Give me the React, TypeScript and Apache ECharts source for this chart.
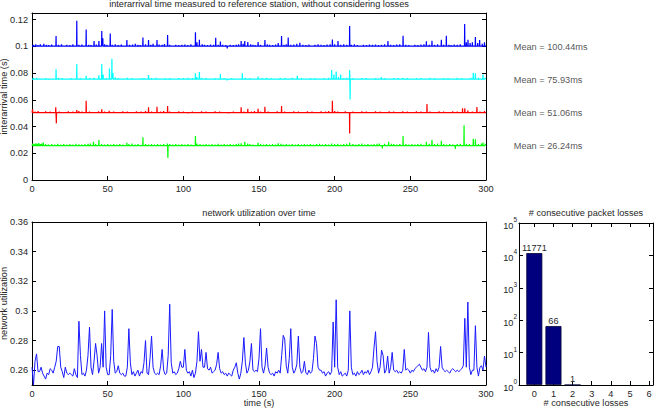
import React, { useEffect, useRef } from "react";
import * as echarts from "echarts";

// ---------- data ----------
const TIME_TICKS = [0, 50, 100, 150, 200, 250, 300];
const INTERARRIVAL_TICKS = [0, 0.02, 0.04, 0.06, 0.08, 0.1, 0.12];
const UTIL_TICKS = [0.26, 0.28, 0.3, 0.32, 0.34, 0.36];
const LOSS_RUNS = [0, 1, 2, 3, 4, 5, 6];
const LOSS_COUNTS = [11771, 66, 1, 0, 0, 0, 0];
const LOG_TICKS = [1, 10, 100, 1000, 10000, 100000];

const STATION_COLORS = ["#0000ff", "#00ffff", "#ff0000", "#00ff00"];
const MEANS_MS = [100.44, 75.93, 51.06, 26.24];
const BASELINES = [0.1002, 0.0755, 0.0505, 0.0258];

// spikes [time s, interarrival s]
const BLUE_SPIKES = [[0.8,0.1012],[2.5,0.1015],[4,0.101],[5.5,0.1016],[7.8,0.102],[9.5,0.1012],[11,0.101],[13,0.1014],[15.9,0.1077],[17.5,0.1012],[19.5,0.1016],[21,0.0997],[23,0.1012],[25,0.101],[27,0.1015],[29.6,0.1192],[31,0.1012],[33,0.1014],[35.8,0.1127],[37.5,0.1012],[39,0.101],[41,0.104],[42.5,0.1013],[44.2,0.104],[46.1,0.1115],[46.8,0.106],[48,0.1015],[49.5,0.1012],[51.7,0.1097],[53,0.1012],[55,0.1015],[57,0.101],[59,0.1013],[60.5,0.0997],[62.7,0.1047],[64.5,0.1012],[66.5,0.1014],[68.3,0.102],[70,0.1012],[71.5,0.101],[73.3,0.1067],[75,0.1015],[77,0.1047],[78.5,0.1012],[80,0.102],[82.6,0.1047],[84,0.1014],[86,0.1012],[87.5,0.1018],[89.6,0.1085],[91,0.1012],[93,0.0997],[95,0.1012],[97,0.101],[99,0.1012],[101,0.1014],[103,0.101],[105,0.1015],[108,0.1105],[109,0.103],[110.6,0.105],[112.5,0.1015],[114,0.1012],[116,0.101],[118,0.1013],[120,0.1012],[121.4,0.1065],[123,0.1012],[124.5,0.1037],[126,0.1012],[128,0.101],[129,0.0985],[131,0.1012],[133,0.101],[135,0.1012],[136.5,0.1015],[138.2,0.104],[139.5,0.102],[140.6,0.104],[142.6,0.1032],[144.5,0.1015],[146,0.1012],[147.5,0.101],[149.4,0.1032],[151,0.1012],[153.9,0.1047],[155.5,0.1015],[157,0.1012],[159,0.101],[161,0.1014],[162.7,0.1025],[164.9,0.1077],[166.5,0.1012],[168,0.1015],[169.3,0.1067],[171,0.1012],[173,0.1014],[175,0.102],[177,0.1027],[179,0.1012],[181,0.101],[183,0.1013],[185,0.0997],[187,0.1012],[189,0.1015],[191,0.1012],[193,0.101],[195,0.1014],[197,0.1015],[198.5,0.1052],[200,0.1015],[202.2,0.104],[204,0.1012],[206,0.1015],[208,0.1012],[209.9,0.1152],[211,0.1012],[213,0.1015],[215,0.101],[217,0.0997],[219,0.1012],[221,0.101],[223,0.1013],[225,0.1012],[227,0.1014],[229,0.101],[231,0.1012],[233,0.1015],[235.2,0.104],[237,0.1012],[239,0.101],[241,0.1013],[243,0.1015],[245.2,0.108],[247,0.1012],[249,0.101],[251,0.0997],[253,0.1012],[255,0.101],[257,0.1013],[259,0.1015],[260.6,0.1038],[262.5,0.1012],[264.3,0.1042],[266,0.1012],[268,0.1015],[270.5,0.105],[272,0.1012],[273.8,0.108],[275.5,0.1012],[277,0.101],[279,0.1014],[281,0.1012],[283,0.1015],[285.9,0.1167],[287,0.103],[288.1,0.105],[289.5,0.1025],[291,0.103],[293,0.107],[294.5,0.1025],[295.8,0.1047],[297.5,0.102],[299,0.103]];
const CYAN_SPIKES = [[1,0.0762],[3,0.0765],[6,0.076],[9,0.0763],[12,0.076],[15.9,0.0828],[17.5,0.0765],[20,0.0762],[23,0.076],[26,0.0763],[29.6,0.0868],[32,0.0762],[35.8,0.078],[38,0.0762],[41,0.0765],[44.2,0.0783],[46.1,0.0868],[47,0.079],[49,0.0762],[51.2,0.0835],[52.8,0.0908],[53.5,0.08],[55,0.0768],[57,0.0762],[60,0.076],[63,0.0765],[66,0.0762],[69,0.076],[72,0.0763],[74,0.0762],[77,0.0786],[79,0.0762],[82,0.0765],[85,0.076],[88,0.0763],[91,0.0762],[94,0.076],[97,0.0763],[100,0.0762],[103,0.0765],[106,0.0762],[108,0.0798],[109,0.077],[110.6,0.0808],[112,0.0765],[115,0.0762],[118,0.076],[121,0.0763],[124.5,0.0793],[127,0.0762],[129,0.0745],[132,0.0762],[135,0.076],[139,0.0798],[141,0.0765],[144,0.0762],[147,0.076],[149.4,0.0775],[152,0.0762],[155,0.0765],[158,0.0762],[161,0.076],[164,0.0765],[167,0.0762],[170,0.076],[172,0.0765],[175.3,0.078],[178,0.0762],[181,0.076],[184,0.0763],[187,0.0762],[190,0.076],[193,0.0763],[196,0.0765],[198,0.0823],[199.5,0.079],[201,0.0812],[202.5,0.077],[204,0.079],[206,0.0762],[208,0.0765],[209.9,0.0823],[210.2,0.0603],[212,0.0762],[215,0.076],[218,0.0763],[221,0.0762],[224,0.076],[227,0.0763],[230.8,0.077],[233,0.0762],[236,0.076],[239,0.0763],[242,0.0762],[245,0.0765],[248,0.0762],[251,0.076],[254,0.0763],[257,0.0762],[260,0.076],[263,0.0765],[266,0.0762],[269,0.076],[272,0.0763],[275,0.0762],[278,0.076],[281,0.0765],[284,0.0762],[287,0.076],[290,0.0765],[291.6,0.0803],[293,0.0798],[295,0.0765],[298,0.079],[299.5,0.0765]];
const RED_SPIKES = [[0.4,0.0529],[2,0.0512],[4,0.0515],[6,0.051],[9,0.0513],[12,0.0512],[15.7,0.0544],[16.1,0.0424],[18,0.0512],[21,0.051],[24,0.0513],[27,0.0512],[29.6,0.0524],[31,0.0515],[33,0.0512],[35.8,0.0594],[38,0.0512],[41,0.051],[44,0.0513],[46.1,0.0529],[48,0.0512],[51,0.0518],[54,0.0512],[57,0.051],[60,0.0513],[63,0.0512],[66,0.051],[69,0.0513],[72,0.0512],[75,0.0515],[77,0.0544],[79,0.0512],[82.6,0.0549],[85,0.0512],[87,0.0515],[89.6,0.0554],[91,0.0512],[94,0.051],[97,0.0513],[100,0.0512],[103,0.0498],[106,0.0512],[109,0.051],[112,0.0513],[115,0.0512],[118,0.051],[121,0.0513],[124,0.0512],[127,0.051],[130,0.0498],[133,0.0512],[136,0.051],[138.2,0.0544],[140,0.0512],[142.6,0.0534],[145,0.0512],[147,0.0515],[149.4,0.0534],[151,0.0512],[153.9,0.0549],[156,0.0512],[159,0.051],[162,0.0513],[164.9,0.0554],[167,0.0512],[170,0.051],[173,0.0513],[176,0.0512],[179,0.051],[182,0.0513],[185,0.0512],[188,0.051],[191,0.0513],[194,0.0512],[196,0.0515],[198.5,0.0594],[200,0.0515],[202,0.0512],[205,0.051],[207,0.0513],[209.9,0.0349],[212,0.0512],[215,0.051],[218,0.0513],[221,0.0512],[224,0.051],[227,0.0513],[230,0.0512],[233,0.051],[236,0.0513],[239,0.0512],[242,0.051],[245,0.0513],[248,0.0512],[251,0.051],[254,0.0513],[257,0.0512],[261,0.0569],[263,0.0512],[266,0.051],[269,0.0513],[272,0.0512],[275,0.051],[278,0.0513],[281,0.0512],[284.5,0.0536],[286,0.0536],[288,0.052],[291,0.0512],[294,0.0546],[296,0.0512],[299,0.0515]];
const GREEN_SPIKES = [[0.5,0.0272],[1.5,0.0268],[2.5,0.0275],[3.5,0.027],[4.5,0.0277],[5.5,0.0268],[6.5,0.0272],[7.5,0.028],[9,0.0268],[11,0.0265],[13,0.0268],[15,0.0265],[17,0.027],[19,0.0265],[21,0.0268],[23,0.0265],[25,0.0268],[27,0.0265],[29,0.027],[31,0.0267],[33,0.0265],[35,0.0268],[37,0.027],[38.5,0.0272],[40.6,0.0287],[42,0.0268],[44.2,0.0299],[46,0.0268],[48,0.0265],[50,0.0268],[52,0.0265],[54,0.0268],[56,0.0265],[58,0.0268],[60,0.0265],[62.7,0.0279],[64,0.0268],[66,0.0272],[68,0.0265],[70,0.0268],[73.3,0.0319],[75,0.0268],[77,0.0265],[79,0.0268],[81,0.0265],[83,0.0268],[85,0.0265],[87,0.0268],[89.5,0.0272],[89.8,0.0165],[91,0.0268],[93,0.0265],[95,0.0268],[97,0.0265],[99,0.0268],[101,0.0265],[103,0.0268],[105,0.0265],[108,0.0329],[109,0.0272],[111,0.0268],[113,0.0265],[115,0.0268],[117,0.0265],[119,0.0268],[121,0.0265],[123,0.027],[125,0.0265],[127,0.0268],[129,0.0265],[131,0.0268],[133,0.0265],[135,0.0268],[136.5,0.0272],[138.2,0.0274],[140.6,0.0287],[142.5,0.0272],[144,0.0268],[146,0.0265],[149.4,0.0279],[151,0.0268],[153,0.0265],[155,0.0268],[157,0.0265],[159,0.0268],[161,0.0265],[162.7,0.0274],[164.5,0.027],[166,0.0265],[168,0.0268],[170,0.0265],[172,0.0268],[174,0.0265],[176,0.0268],[178,0.0265],[180,0.0268],[182,0.0265],[184,0.0268],[186,0.0265],[188,0.0268],[190,0.027],[192,0.0265],[194,0.0268],[196,0.0265],[198,0.0272],[200,0.0268],[202,0.027],[204,0.0265],[206,0.0268],[208,0.027],[209.9,0.0279],[212,0.0268],[214,0.0265],[216,0.0268],[218,0.0272],[220,0.0265],[222,0.0268],[224,0.0265],[226,0.0268],[228,0.027],[229.5,0.0272],[231.5,0.0237],[233,0.027],[235.7,0.0287],[237.5,0.027],[239,0.0268],[241,0.0265],[243,0.0268],[245.2,0.0329],[247,0.0268],[249,0.0265],[251,0.0268],[253,0.0265],[255,0.0268],[257,0.027],[260.6,0.0287],[262.5,0.027],[264.3,0.0299],[266,0.0268],[268,0.0272],[270.5,0.0294],[272,0.0268],[274,0.0265],[276,0.0268],[278,0.0265],[279.7,0.0232],[281,0.0268],[283,0.027],[285.5,0.041],[287,0.027],[289,0.0268],[291.6,0.0309],[293,0.0304],[295,0.0268],[297,0.0272],[298,0.028],[299.5,0.027]];
const STATION_SPIKES = [BLUE_SPIKES, CYAN_SPIKES, RED_SPIKES, GREEN_SPIKES];

// network utilization, one sample per second, t = 0..300
const UTILIZATION = [
  0.262,0.25,0.266,0.271,0.259,0.259,0.262,0.258,0.256,0.254,0.258,0.257,0.261,0.26,0.258,0.262,0.266,0.276,0.276,0.262,
  0.259,0.255,0.262,0.258,0.257,0.258,0.257,0.256,0.261,0.257,0.255,0.293,0.27,0.257,0.258,0.256,0.26,0.27,0.289,0.262,
  0.257,0.266,0.278,0.27,0.258,0.262,0.278,0.262,0.3,0.262,0.257,0.257,0.27,0.301,0.266,0.258,0.259,0.263,0.258,0.257,
  0.258,0.256,0.256,0.262,0.288,0.265,0.257,0.259,0.256,0.258,0.26,0.256,0.259,0.258,0.265,0.28,0.258,0.257,0.268,0.283,
  0.262,0.258,0.257,0.258,0.257,0.263,0.274,0.26,0.257,0.258,0.27,0.3045,0.265,0.258,0.259,0.257,0.258,0.261,0.266,0.262,
  0.262,0.274,0.26,0.258,0.259,0.256,0.26,0.255,0.258,0.266,0.286,0.266,0.274,0.262,0.262,0.272,0.261,0.26,0.262,0.258,
  0.259,0.26,0.264,0.272,0.261,0.258,0.259,0.257,0.258,0.256,0.258,0.257,0.256,0.26,0.262,0.265,0.258,0.254,0.258,0.266,
  0.282,0.265,0.258,0.26,0.266,0.278,0.26,0.259,0.26,0.259,0.268,0.288,0.262,0.258,0.263,0.275,0.262,0.258,0.257,0.258,
  0.256,0.259,0.258,0.26,0.258,0.27,0.2835,0.281,0.263,0.258,0.268,0.288,0.262,0.258,0.26,0.264,0.283,0.262,0.258,0.259,
  0.266,0.258,0.257,0.26,0.258,0.259,0.268,0.283,0.278,0.262,0.26,0.26,0.258,0.259,0.256,0.258,0.259,0.257,0.259,0.2925,
  0.262,0.3075,0.262,0.257,0.259,0.256,0.257,0.258,0.256,0.26,0.3,0.262,0.257,0.258,0.256,0.259,0.257,0.258,0.26,0.257,
  0.259,0.258,0.26,0.257,0.259,0.262,0.275,0.286,0.266,0.258,0.262,0.2735,0.27,0.258,0.26,0.2695,0.258,0.262,0.272,0.26,
  0.259,0.26,0.258,0.259,0.258,0.26,0.274,0.26,0.261,0.26,0.258,0.26,0.259,0.261,0.262,0.263,0.264,0.262,0.26,0.261,
  0.259,0.262,0.2855,0.262,0.259,0.26,0.258,0.261,0.259,0.262,0.276,0.262,0.26,0.259,0.26,0.259,0.258,0.26,0.261,0.26,
  0.259,0.26,0.259,0.26,0.261,0.263,0.295,0.262,0.306,0.262,0.257,0.26,0.26,0.29,0.262,0.256,0.262,0.263,0.26,0.2695,0.262
];

// ---------- style ----------
const FONT = '"Liberation Sans", Arial, Helvetica, sans-serif';
const TXT = "#262626";
const FS = 9.2;

function buildTrace(base: number, spikes: number[][]) {
  const pts: number[][] = [[0, base]];
  for (const [t, v] of spikes) {
    pts.push([t - 0.12, base], [t, v], [t + 0.12, base]);
  }
  pts.push([300, base]);
  return pts;
}

const line = { show: true, onZero: false, lineStyle: { color: "#000", width: 1 } };
const tick = { show: true, inside: true, length: 4, lineStyle: { color: "#000", width: 1 } };
const lbl = { color: TXT, fontSize: FS, fontFamily: FONT, margin: 4 };
const noSplit = { show: false };

function axisName(name: string, gap: number) {
  return {
    name,
    nameLocation: "middle" as const,
    nameGap: gap,
    nameMoveOverlap: false,
    nameTextStyle: { color: TXT, fontSize: FS, fontFamily: FONT },
  };
}

export default function App() {
  const ref = useRef<HTMLDivElement>(null);
  useEffect(() => {
    document.body.style.margin = "0";
    const chart = echarts.init(ref.current!, null, { renderer: "svg" });

    const supLabel = (v: number) => `{b|10}{s|${Math.round(Math.log10(v))}}`;
    const gridBase = { containLabel: false, outerBoundsMode: "none" };

    const option: any = {
      animation: false,
      backgroundColor: "#ffffff",
      textStyle: { fontFamily: FONT },
      grid: [
        { ...gridBase, left: 32, top: 13, width: 454, height: 167 },
        { ...gridBase, left: 32, top: 222, width: 454, height: 163 },
        { ...gridBase, left: 519, top: 223, width: 134, height: 162 },
      ],
      xAxis: [
        { type: "value", gridIndex: 0, position: "bottom", min: 0, max: 300, interval: 50, axisLine: line, axisTick: tick, axisLabel: lbl, splitLine: noSplit },
        { type: "value", gridIndex: 0, position: "top", min: 0, max: 300, interval: 50, axisLine: line, axisTick: tick, axisLabel: { show: false }, splitLine: noSplit },
        { type: "value", gridIndex: 1, position: "bottom", min: 0, max: 300, interval: 50, axisLine: line, axisTick: tick, axisLabel: lbl, splitLine: noSplit, ...axisName("time (s)", 13) },
        { type: "value", gridIndex: 1, position: "top", min: 0, max: 300, interval: 50, axisLine: line, axisTick: tick, axisLabel: { show: false }, splitLine: noSplit },
        { type: "value", gridIndex: 2, position: "bottom", min: -0.8, max: 6.2, axisLine: line, axisTick: { ...tick, customValues: LOSS_RUNS }, axisLabel: { ...lbl, customValues: LOSS_RUNS }, splitLine: noSplit, ...axisName("# consecutive losses", 13) },
        { type: "value", gridIndex: 2, position: "top", min: -0.8, max: 6.2, axisLine: line, axisTick: { ...tick, customValues: LOSS_RUNS }, axisLabel: { show: false }, splitLine: noSplit },
      ],
      yAxis: [
        { type: "value", gridIndex: 0, position: "left", min: 0, max: 0.125, axisLine: line, axisTick: { ...tick, customValues: INTERARRIVAL_TICKS }, axisLabel: { ...lbl, customValues: INTERARRIVAL_TICKS }, splitLine: noSplit, ...axisName("interarrival time (s)", 24) },
        { type: "value", gridIndex: 0, position: "right", min: 0, max: 0.125, axisLine: line, axisTick: { ...tick, customValues: INTERARRIVAL_TICKS }, axisLabel: { show: false }, splitLine: noSplit },
        { type: "value", gridIndex: 1, position: "left", min: 0.25, max: 0.36, axisLine: line, axisTick: { ...tick, customValues: UTIL_TICKS }, axisLabel: { ...lbl, customValues: UTIL_TICKS }, splitLine: noSplit, ...axisName("network utilization", 24) },
        { type: "value", gridIndex: 1, position: "right", min: 0.25, max: 0.36, axisLine: line, axisTick: { ...tick, customValues: UTIL_TICKS }, axisLabel: { show: false }, splitLine: noSplit },
        {
          type: "log", logBase: 10, gridIndex: 2, position: "left", min: 1, max: 100000, axisLine: line,
          axisTick: { ...tick, customValues: LOG_TICKS }, splitLine: noSplit, minorTick: { show: false },
          axisLabel: {
            ...lbl, margin: 2, customValues: LOG_TICKS, formatter: supLabel,
            rich: {
              b: { fontSize: FS, fontFamily: FONT, color: TXT, lineHeight: 14, verticalAlign: "bottom" },
              s: { fontSize: 6.5, fontFamily: FONT, color: TXT, lineHeight: 14, verticalAlign: "top" },
            },
          },
        },
        { type: "log", logBase: 10, gridIndex: 2, position: "right", min: 1, max: 100000, axisLine: line, axisTick: { ...tick, customValues: LOG_TICKS }, axisLabel: { show: false }, splitLine: noSplit },
      ],
      series: [
        ...STATION_SPIKES.map((sp, i) => ({
          type: "line",
          xAxisIndex: 0,
          yAxisIndex: 0,
          data: buildTrace(BASELINES[i], sp),
          symbol: "none",
          lineStyle: { color: STATION_COLORS[i], width: 1.2 },
          silent: true,
        })),
        {
          type: "scatter",
          xAxisIndex: 0,
          yAxisIndex: 0,
          clip: false,
          symbolSize: 1,
          itemStyle: { color: "rgba(0,0,0,0)" },
          data: MEANS_MS.map((m) => [318, m / 1000, m]),
          label: {
            show: true,
            position: "right",
            distance: 0,
            offset: [0, 1],
            color: TXT,
            fontSize: FS,
            fontFamily: FONT,
            formatter: (p: any) => `Mean = ${p.data[2].toFixed(2)}ms`,
          },
          silent: true,
        },
        {
          type: "line",
          xAxisIndex: 2,
          yAxisIndex: 2,
          data: UTILIZATION.map((v, i) => [i, v]),
          symbol: "none",
          lineStyle: { color: "#1a1aff", width: 1 },
          silent: true,
        },
        {
          type: "bar",
          xAxisIndex: 4,
          yAxisIndex: 4,
          barWidth: 16,
          data: LOSS_RUNS.map((k, i) => [k, LOSS_COUNTS[i]]).filter((d) => d[1] > 0),
          itemStyle: { color: "#00007f", borderColor: "#000033", borderWidth: 0.8 },
          label: { show: true, position: "top", distance: 1, color: TXT, fontSize: FS, fontFamily: FONT },
          silent: true,
        },
      ],
      graphic: [
        { type: "text", x: 259, y: 4, style: { text: "interarrival time measured to reference station, without considering losses", textAlign: "center", textVerticalAlign: "middle", align: "center", verticalAlign: "middle", fill: TXT, fontSize: FS, fontFamily: FONT } },
        { type: "text", x: 259, y: 213, style: { text: "network utilization over time", textAlign: "center", textVerticalAlign: "middle", align: "center", verticalAlign: "middle", fill: TXT, fontSize: FS, fontFamily: FONT } },
        { type: "text", x: 586, y: 213, style: { text: "# consecutive packet losses", textAlign: "center", textVerticalAlign: "middle", align: "center", verticalAlign: "middle", fill: TXT, fontSize: FS, fontFamily: FONT } },
      ],
    };
    chart.setOption(option);
    return () => chart.dispose();
  }, []);
  return <div ref={ref} style={{ position: "fixed", left: 0, top: 0, width: 660, height: 410 }} />;
}
